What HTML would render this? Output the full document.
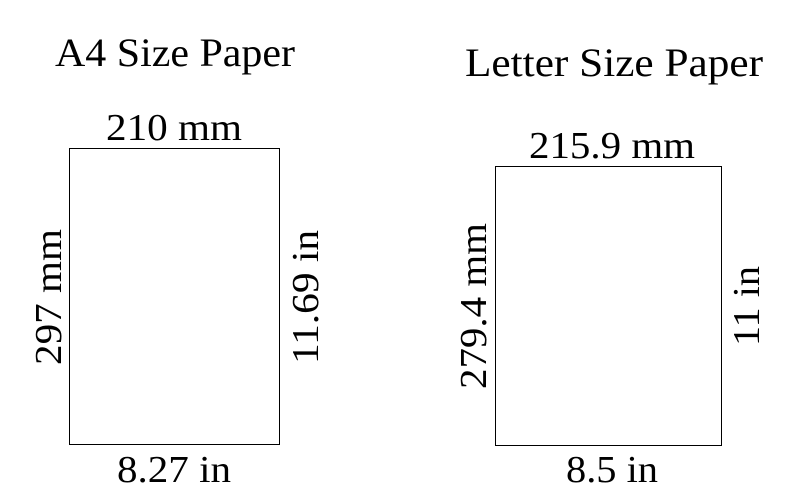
<!DOCTYPE html>
<html>
<head>
<meta charset="utf-8">
<style>
  html, body { margin: 0; padding: 0; background: #fff; }
  svg { display: block; }
  text { font-family: "Liberation Serif", serif; fill: #000; }
</style>
</head>
<body>
<svg width="804" height="501" viewBox="0 0 804 501" xmlns="http://www.w3.org/2000/svg">
  <g>
    <text x="175" y="66" font-size="40" text-anchor="middle" textLength="240" lengthAdjust="spacingAndGlyphs">A4 Size Paper</text>
    <rect x="69.5" y="148.5" width="210" height="296" fill="none" stroke="#000" stroke-width="1"/>
    <text x="174" y="140" font-size="38" text-anchor="middle" textLength="136" lengthAdjust="spacingAndGlyphs">210 mm</text>
    <text x="174" y="482" font-size="38" text-anchor="middle" textLength="114" lengthAdjust="spacingAndGlyphs">8.27 in</text>
    <text x="0" y="0" font-size="38" text-anchor="middle" textLength="136" lengthAdjust="spacingAndGlyphs" transform="translate(61,297) rotate(-90)">297 mm</text>
    <text x="0" y="0" font-size="38" text-anchor="middle" textLength="134" lengthAdjust="spacingAndGlyphs" transform="translate(318,297) rotate(-90)">11.69 in</text>
  </g>
  <g>
    <text x="614" y="76" font-size="40" text-anchor="middle" textLength="298" lengthAdjust="spacingAndGlyphs">Letter Size Paper</text>
    <rect x="495.5" y="166.5" width="226" height="279" fill="none" stroke="#000" stroke-width="1"/>
    <text x="612" y="158" font-size="38" text-anchor="middle" textLength="166" lengthAdjust="spacingAndGlyphs">215.9 mm</text>
    <text x="612" y="482" font-size="38" text-anchor="middle" textLength="92" lengthAdjust="spacingAndGlyphs">8.5 in</text>
    <text x="0" y="0" font-size="38" text-anchor="middle" textLength="166" lengthAdjust="spacingAndGlyphs" transform="translate(486,306) rotate(-90)">279.4 mm</text>
    <text x="0" y="0" font-size="38" text-anchor="middle" textLength="80" lengthAdjust="spacingAndGlyphs" transform="translate(759,306) rotate(-90)">11 in</text>
  </g>
</svg>
</body>
</html>
